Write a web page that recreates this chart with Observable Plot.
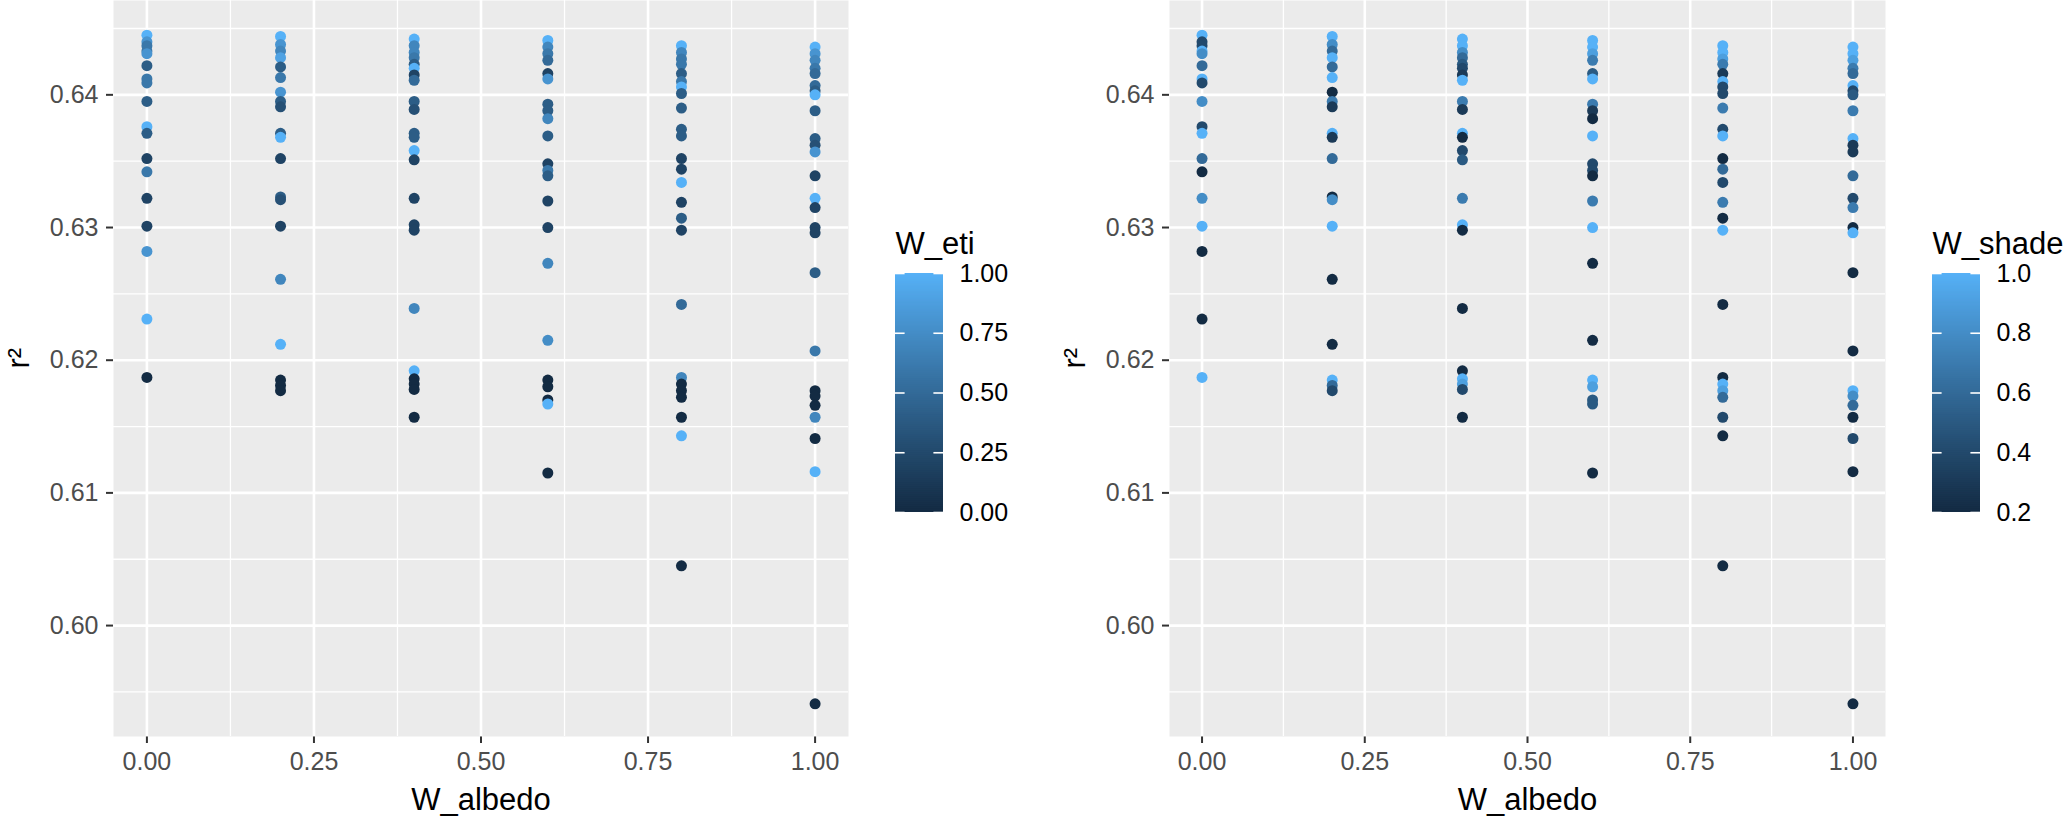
<!DOCTYPE html>
<html>
<head>
<meta charset="utf-8">
<script src="https://cdn.jsdelivr.net/npm/d3@7"></script>
<script src="https://cdn.jsdelivr.net/npm/@observablehq/plot@0.6"></script>
<style>
  body { margin: 0; background: #ffffff; }
  #wrap { position: relative; width: 2067px; height: 819px; overflow: hidden; background: #fff; }
  #wrap svg { position: absolute; top: 0; overflow: visible; }
  #wrap [aria-label$="axis tick"] path, #wrap .tick line { stroke: #333333; stroke-width: 2; }
</style>
</head>
<body>
<div id="wrap"></div>
<script>
// ---------- data ----------
const albedoLevels = [0, 0.2, 0.4, 0.6, 0.8, 1.0];
const pointsPerLevel = [18, 20, 23, 22, 25, 26];

const r2 = [
  // W_albedo = 0
  0.6445, 0.6440, 0.6437, 0.6433, 0.6431, 0.6422, 0.6412, 0.6409, 0.6395, 0.6376, 0.6371, 0.6352, 0.6342, 0.6322, 0.6301, 0.6282, 0.6231, 0.6187,
  // W_albedo = 0.2
  0.6444, 0.6438, 0.6433, 0.6428, 0.6421, 0.6413, 0.6402, 0.6395, 0.6391, 0.6371, 0.6368, 0.6352, 0.6323, 0.6321, 0.6301, 0.6261, 0.6212, 0.6185, 0.6181, 0.6177,
  // W_albedo = 0.4
  0.6442, 0.6437, 0.6432, 0.6428, 0.6423, 0.6420, 0.6415, 0.6411, 0.6395, 0.6389, 0.6371, 0.6368, 0.6358, 0.6351, 0.6322, 0.6302, 0.6298, 0.6239, 0.6192, 0.6186, 0.6182, 0.6178, 0.6157,
  // W_albedo = 0.6
  0.6441, 0.6436, 0.6431, 0.6426, 0.6416, 0.6412, 0.6393, 0.6388, 0.6382, 0.6369, 0.6348, 0.6343, 0.6339, 0.6320, 0.6300, 0.6273, 0.6215, 0.6185, 0.6180, 0.6170, 0.6167, 0.6115,
  // W_albedo = 0.8
  0.6437, 0.6432, 0.6427, 0.6423, 0.6416, 0.6410, 0.6406, 0.6401, 0.6390, 0.6374, 0.6369, 0.6352, 0.6344, 0.6334, 0.6319, 0.6307, 0.6298, 0.6242, 0.6187, 0.6182, 0.6177, 0.6172, 0.6157, 0.6143, 0.6045,
  // W_albedo = 1.0
  0.6436, 0.6431, 0.6426, 0.6420, 0.6416, 0.6407, 0.6403, 0.6400, 0.6388, 0.6367, 0.6362, 0.6357, 0.6339, 0.6322, 0.6315, 0.6300, 0.6296, 0.6266, 0.6207, 0.6177, 0.6173, 0.6166, 0.6157, 0.6141, 0.6116, 0.5941
];

const wEti = [
  1.0, 0.8, 0.6, 0.6, 0.8, 0.4, 0.6, 0.6, 0.4, 1.0, 0.4, 0.2, 0.6, 0.2, 0.2, 0.8, 1.0, 0.0,
  1.0, 0.8, 0.7, 0.9, 0.4, 0.6, 0.8, 0.4, 0.3, 0.4, 1.0, 0.2, 0.4, 0.3, 0.2, 0.7, 1.0, 0.0, 0.0, 0.0,
  1.0, 0.7, 0.7, 0.6, 0.4, 1.0, 0.2, 0.5, 0.4, 0.3, 0.4, 0.4, 1.0, 0.2, 0.2, 0.2, 0.2, 0.7, 1.0, 0.0, 0.0, 0.0, 0.0,
  1.0, 0.7, 0.6, 0.5, 0.2, 0.8, 0.4, 0.4, 0.7, 0.4, 0.2, 0.6, 0.4, 0.2, 0.2, 0.7, 0.75, 0.0, 0.0, 0.0, 1.0, 0.0,
  1.0, 0.7, 0.6, 0.6, 0.4, 0.6, 1.0, 0.4, 0.4, 0.4, 0.4, 0.2, 0.2, 1.0, 0.2, 0.4, 0.2, 0.5, 0.7, 0.0, 0.0, 0.0, 0.0, 1.0, 0.0,
  1.0, 0.8, 0.7, 0.6, 0.5, 0.5, 0.4, 1.0, 0.4, 0.4, 0.3, 0.8, 0.2, 1.0, 0.2, 0.2, 0.2, 0.4, 0.6, 0.0, 0.0, 0.0, 0.7, 0.0, 1.0, 0.0
];

const wShade = [
  1.0, 0.4, 0.4, 1.0, 0.8, 0.6, 1.0, 0.4, 0.8, 0.4, 1.0, 0.6, 0.2, 0.8, 1.0, 0.2, 0.2, 1.0,
  1.0, 0.8, 0.6, 1.0, 0.6, 1.0, 0.2, 0.7, 0.3, 1.0, 0.3, 0.6, 0.2, 0.8, 1.0, 0.2, 0.2, 1.0, 0.6, 0.4,
  1.0, 1.0, 0.8, 0.6, 0.5, 0.4, 0.3, 1.0, 0.7, 0.3, 1.0, 0.2, 0.4, 0.5, 0.7, 1.0, 0.2, 0.2, 0.2, 1.0, 0.9, 0.4, 0.2,
  1.0, 1.0, 0.9, 0.7, 0.5, 1.0, 0.7, 0.3, 0.2, 1.0, 0.4, 0.4, 0.2, 0.7, 1.0, 0.2, 0.2, 1.0, 0.9, 0.5, 0.5, 0.2,
  1.0, 1.0, 0.9, 0.7, 0.3, 1.0, 0.4, 0.4, 0.7, 0.4, 1.0, 0.2, 0.6, 0.4, 0.7, 0.2, 1.0, 0.2, 0.2, 1.0, 0.9, 0.6, 0.4, 0.2, 0.2,
  1.0, 1.0, 0.9, 0.7, 0.6, 1.0, 0.4, 0.5, 0.7, 1.0, 0.3, 0.3, 0.6, 0.4, 0.7, 0.2, 1.0, 0.2, 0.2, 1.0, 0.8, 0.6, 0.2, 0.4, 0.2, 0.2
];

const xTicks = [0, 0.25, 0.5, 0.75, 1.0];
const xMinor = [0.125, 0.375, 0.625, 0.875];
const yTicks = [0.60, 0.61, 0.62, 0.63, 0.64];
const yMinor = [0.595, 0.605, 0.615, 0.625, 0.635, 0.645];
const etiTicks = [0, 0.25, 0.5, 0.75, 1.0];
const shadeTicks = [0.2, 0.4, 0.6, 0.8, 1.0];

// ---------- table built from the arrays ----------
const wAlbedo = albedoLevels.flatMap((a, i) => Array(pointsPerLevel[i]).fill(a));
const rows = r2.map((v, i) => ({ r2: v, albedo: wAlbedo[i], eti: wEti[i], shade: wShade[i] }));

const FONT = "'Liberation Sans', Arial, Helvetica, sans-serif";
const LOW = "#132B43", HIGH = "#56B1F7";

function panel(field, domain, width) {
  return Plot.plot({
    width, height: 819,
    marginTop: 0, marginBottom: 83, marginLeft: 113, marginRight: 12,
    style: { fontFamily: FONT, fontSize: "25px", color: "#4D4D4D", background: "transparent", overflow: "visible" },
    x: { domain: [-0.05, 1.05], ticks: xTicks, tickFormat: d3.format(".2f"), tickSize: 7, tickPadding: 9, label: null },
    y: { domain: [0.59164, 0.64711], ticks: yTicks, tickFormat: d3.format(".2f"), tickSize: 7, tickPadding: 8, label: null },
    color: { type: "linear", domain, range: [LOW, HIGH], interpolate: "lab" },
    marks: [
      Plot.frame({ fill: "#EBEBEB", stroke: "none" }),
      Plot.ruleX(xMinor, { stroke: "white", strokeWidth: 1.3 }),
      Plot.ruleY(yMinor, { stroke: "white", strokeWidth: 1.3 }),
      Plot.ruleX(xTicks, { stroke: "white", strokeWidth: 2.6 }),
      Plot.ruleY(yTicks, { stroke: "white", strokeWidth: 2.6 }),
      Plot.dot(rows, { x: "albedo", y: "r2", fill: field, r: 5.5 }),
      Plot.text(["W_albedo"], { frameAnchor: "bottom", lineAnchor: "middle", dy: 64, text: d => d, fontSize: 31, fill: "black" }),
      Plot.text(["r²"], { frameAnchor: "left", lineAnchor: "middle", dx: -94, rotate: -90, text: d => d, fontSize: 31, fill: "black" })
    ]
  });
}

function legend(title, domain, ticks, fmt, width) {
  const [d0, d1] = domain;
  const n = 120;
  const steps = d3.range(n).map(i => ({
    lo: d0 + (d1 - d0) * i / n,
    hi: Math.min(d1, d0 + (d1 - d0) * (i + 1.6) / n),
    v: d0 + (d1 - d0) * (i + 0.5) / n
  }));
  return Plot.plot({
    width, height: 819,
    marginTop: 273, marginBottom: 307, marginLeft: 15, marginRight: width - 15 - 48,
    style: { fontFamily: FONT, fontSize: "25px", color: "black", background: "transparent", overflow: "visible" },
    x: { domain: [0, 1], axis: null },
    y: { domain, axis: null },
    color: { type: "linear", domain, range: [LOW, HIGH], interpolate: "lab" },
    marks: [
      Plot.rect(steps, { x1: 0, x2: 1, y1: "lo", y2: "hi", fill: "v" }),
      Plot.ruleY(ticks, { y: d => d, x1: 0, x2: 0.2, stroke: "white", strokeWidth: 1.6 }),
      Plot.ruleY(ticks, { y: d => d, x1: 0.8, x2: 1, stroke: "white", strokeWidth: 1.6 }),
      Plot.text(ticks, { y: d => d, frameAnchor: "right", lineAnchor: "middle", dx: 16, textAnchor: "start", text: d => d3.format(fmt)(d), fontSize: 25, fill: "black" }),
      Plot.text([title], { frameAnchor: "top-left", lineAnchor: "middle", dy: -29, textAnchor: "start", text: d => d, fontSize: 31, fill: "black" })
    ]
  });
}

const wrap = document.getElementById("wrap");
function place(el, left) { el.style.left = left + "px"; el.style.position = "absolute"; el.style.top = "0px"; wrap.appendChild(el); }

place(panel("eti", [0, 1], 860), 0);
place(legend("W_eti", [0, 1], etiTicks, ".2f", 140), 880);
place(panel("shade", [0.2, 1], 841), 1056);
place(legend("W_shade", [0.2, 1], shadeTicks, ".1f", 150), 1917);
</script>
</body>
</html>
